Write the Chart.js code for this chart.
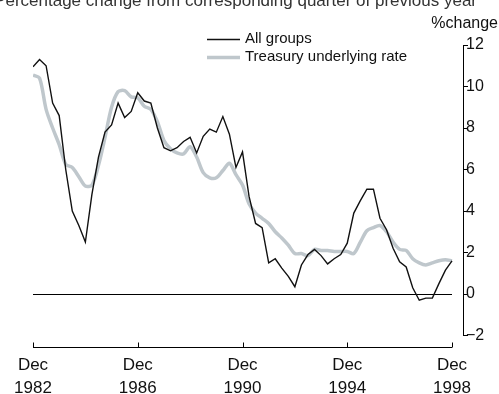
<!DOCTYPE html>
<html>
<head>
<meta charset="utf-8">
<script src="https://cdn.jsdelivr.net/npm/chart.js@4"></script>
<style>
  html, body { margin: 0; padding: 0; background: #fff; }
  #wrap { width: 499px; height: 394px; }
</style>
</head>
<body>
<div id="wrap"><canvas id="cpi" width="499" height="394"></canvas></div>
<script>
// quarterly, Dec 1982 .. Dec 1998
const allGroups = [
  10.95, 11.3, 11.0, 9.2, 8.6, 6.0, 4.0, 3.3, 2.5, 4.8,
  6.6, 7.8, 8.15, 9.2, 8.5, 8.8, 9.7, 9.3, 9.2, 8.0,
  7.05, 6.9, 7.05, 7.35, 7.55, 6.8, 7.6, 7.95, 7.8, 8.55,
  7.7, 6.1, 6.85, 4.7, 3.4, 3.2, 1.5, 1.7, 1.25, 0.85,
  0.35, 1.4, 1.9, 2.15, 1.85, 1.45, 1.7, 1.9, 2.45, 3.9,
  4.5, 5.05, 5.05, 3.65, 3.1, 2.2, 1.55, 1.3, 0.3, -0.3,
  -0.2, -0.2, 0.5, 1.15, 1.6
]
const treasuryRate = [
  10.55, 10.4, 8.9, 8.0, 7.2, 6.25, 6.1, 5.65, 5.2, 5.25,
  6.2, 7.55, 9.0, 9.75, 9.8, 9.5, 9.45, 9.05, 8.9, 8.3,
  7.4, 7.0, 6.8, 6.75, 7.1, 6.6, 5.85, 5.6, 5.6, 5.95,
  6.3, 5.75, 5.25, 4.35, 3.9, 3.65, 3.4, 3.0, 2.7, 2.35,
  1.95, 1.95, 1.85, 2.15, 2.1, 2.1, 2.05, 2.05, 2.05, 1.95,
  2.5, 3.05, 3.2, 3.3, 3.0, 2.5, 2.15, 2.1, 1.7, 1.5,
  1.4, 1.5, 1.6, 1.65, 1.6
]
const xTickLabels = [['Dec', '1982'], ['Dec', '1986'], ['Dec', '1990'], ['Dec', '1994'], ['Dec', '1998']]
const seriesNames = ['All groups', 'Treasury underlying rate']
const lastQ = allGroups.length - 1

const toPoints = (arr) => arr.map((v, i) => ({x: i, y: v}))

const extras = {
  id: 'extras',
  beforeDatasetsDraw(chart) {
    const {ctx, scales: {x, y}} = chart
    ctx.save()
    ctx.strokeStyle = '#000'
    ctx.lineWidth = 1
    // zero line
    const y0 = Math.round(y.getPixelForValue(0)) + 0.5
    ctx.beginPath()
    ctx.moveTo(x.getPixelForValue(0), y0)
    ctx.lineTo(x.getPixelForValue(lastQ), y0)
    ctx.stroke()
    ctx.restore()
  },
  afterDraw(chart) {
    const {ctx, chartArea, scales: {x}} = chart
    ctx.save()
    // x axis line below the plot, ticks pointing up
    const ay = Math.round(chartArea.bottom + 11.5) + 0.5
    ctx.strokeStyle = '#000'
    ctx.lineWidth = 1
    ctx.beginPath()
    ctx.moveTo(x.getPixelForValue(0), ay)
    ctx.lineTo(x.getPixelForValue(lastQ), ay)
    for (let q = 0; q <= lastQ; q += 16) {
      const px = Math.round(x.getPixelForValue(q)) + 0.5
      ctx.moveTo(px, ay)
      ctx.lineTo(px, ay - 5)
    }
    ctx.stroke()

    // clipped heading at the very top
    ctx.fillStyle = '#333'
    ctx.font = '17px "Liberation Sans"'
    ctx.textAlign = 'right'
    ctx.textBaseline = 'alphabetic'
    ctx.fillText('Percentage change from corresponding quarter of previous year', 477, 6)

    // unit label
    ctx.fillStyle = '#111'
    ctx.font = '16px "Liberation Sans"'
    ctx.textAlign = 'right'
    ctx.fillText('%change', 498, 28)

    // legend
    const lx = 207, lw = 33
    ctx.lineWidth = 1.4
    ctx.strokeStyle = '#111'
    ctx.beginPath(); ctx.moveTo(lx, 39.5); ctx.lineTo(lx + lw, 39.5); ctx.stroke()
    ctx.lineWidth = 3.5
    ctx.strokeStyle = '#bfc7cc'
    ctx.beginPath(); ctx.moveTo(lx, 57.5); ctx.lineTo(lx + lw, 57.5); ctx.stroke()
    ctx.fillStyle = '#111'
    ctx.font = '15px "Liberation Sans"'
    ctx.textAlign = 'left'
    ctx.textBaseline = 'middle'
    ctx.fillText(seriesNames[0], 245, 39)
    ctx.fillText(seriesNames[1], 245, 57)
    ctx.restore()
  }
}

const config = {
  type: 'line',
  data: {
    datasets: [
      {
        label: seriesNames[0],
        data: toPoints(allGroups),
        borderColor: '#111',
        borderWidth: 1.4,
        pointRadius: 0,
        tension: 0,
        order: 0
      },
      {
        label: seriesNames[1],
        data: toPoints(treasuryRate),
        borderColor: '#bfc7cc',
        borderWidth: 3.5,
        pointRadius: 0,
        tension: 0.3,
        order: 1
      }
    ]
  },
  options: {
    responsive: false,
    animation: false,
    devicePixelRatio: 1,
    layout: {padding: {left: 33, top: 45, right: 0, bottom: 0}},
    plugins: {legend: {display: false}, tooltip: {enabled: false}},
    scales: {
      x: {
        type: 'linear',
        min: 0,
        max: lastQ * 430 / 419,
        grid: {display: false},
        border: {display: false},
        ticks: {
          stepSize: 16,
          includeBounds: false,
          autoSkip: false,
          maxRotation: 0,
          padding: 10,
          color: '#111',
          font: {family: 'Liberation Sans', size: 17, lineHeight: 1.35},
          callback: (v) => xTickLabels[v / 16]
        },
        afterFit: (s) => { s.height = 58.5 }
      },
      y: {
        position: 'right',
        min: -2,
        max: 12,
        grid: {drawOnChartArea: false, color: '#000', tickLength: 5, lineWidth: 1},
        border: {display: true, color: '#000', width: 1},
        ticks: {
          stepSize: 2,
          padding: -2,
          color: '#111',
          font: {family: 'Liberation Sans', size: 16},
          callback: (v) => String(v).replace('-', '\u2212')
        },
        afterFit: (s) => { s.width = 36 }
      }
    }
  },
  plugins: [extras]
}

new Chart(document.getElementById('cpi'), config)
</script>
</body>
</html>
